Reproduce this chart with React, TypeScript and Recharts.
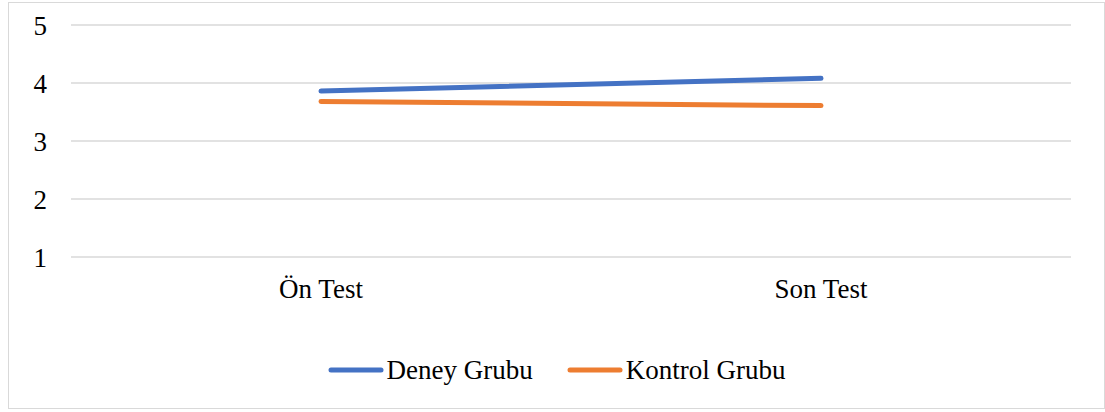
import { CartesianGrid, Legend, Line, LineChart, XAxis, YAxis } from "recharts";

const categories = ["Ön Test", "Son Test"];
const deneyGrubu = [3.86, 4.08];
const kontrolGrubu = [3.68, 3.61];
const yTicks = [1, 2, 3, 4, 5];

const data = categories.map((name, i) => ({
  name,
  deney: deneyGrubu[i],
  kontrol: kontrolGrubu[i],
}));

const font = "'Liberation Serif', 'Times New Roman', serif";

function LegendContent({ payload }: any) {
  return (
    <div style={{ display: "flex", justifyContent: "center", alignItems: "center", fontFamily: font, fontSize: 27, lineHeight: "30px", color: "#000" }}>
      {(payload || []).map((p: any, i: number) => (
        <div key={p.value} style={{ display: "flex", alignItems: "center", marginLeft: i > 0 ? 34 : 0 }}>
          <svg width={56} height={8} style={{ marginRight: 3 }}>
            <line x1={3} y1={4} x2={53} y2={4} stroke={p.color} strokeWidth={5} strokeLinecap="round" />
          </svg>
          <span>{p.value}</span>
        </div>
      ))}
    </div>
  );
}

export default function App() {
  return (
    <div
      style={{
        position: "absolute",
        left: 8,
        top: 2,
        width: 1095,
        height: 405,
        border: "1px solid #d9d9d9",
        background: "#fff",
      }}
    >
      <LineChart width={1095} height={405} data={data} margin={{ top: 22, right: 33, bottom: 91, left: 0 }}>
        <CartesianGrid vertical={false} stroke="#d9d9d9" strokeWidth={1.5} />
        <XAxis
          dataKey="name"
          axisLine={false}
          tickLine={false}
          tickSize={0}
          tickMargin={22}
          padding={{ left: 250, right: 250 }}
          tick={{ fill: "#000", fontSize: 27, fontFamily: font }}
        />
        <YAxis
          domain={[1, 5]}
          ticks={yTicks}
          axisLine={false}
          tickLine={false}
          tickSize={0}
          tickMargin={24}
          width={62}
          tick={{ fill: "#000", fontSize: 27, fontFamily: font }}
        />
        <Legend
          content={<LegendContent />}
          verticalAlign="bottom"
          wrapperStyle={{ left: 0, width: 1095, bottom: "auto", top: 352 }}
        />
        <Line
          dataKey="deney"
          name="Deney Grubu"
          stroke="#4472c4"
          strokeWidth={5}
          strokeLinecap="round"
          dot={false}
          activeDot={false}
          isAnimationActive={false}
        />
        <Line
          dataKey="kontrol"
          name="Kontrol Grubu"
          stroke="#ed7d31"
          strokeWidth={5}
          strokeLinecap="round"
          dot={false}
          activeDot={false}
          isAnimationActive={false}
        />
      </LineChart>
    </div>
  );
}
